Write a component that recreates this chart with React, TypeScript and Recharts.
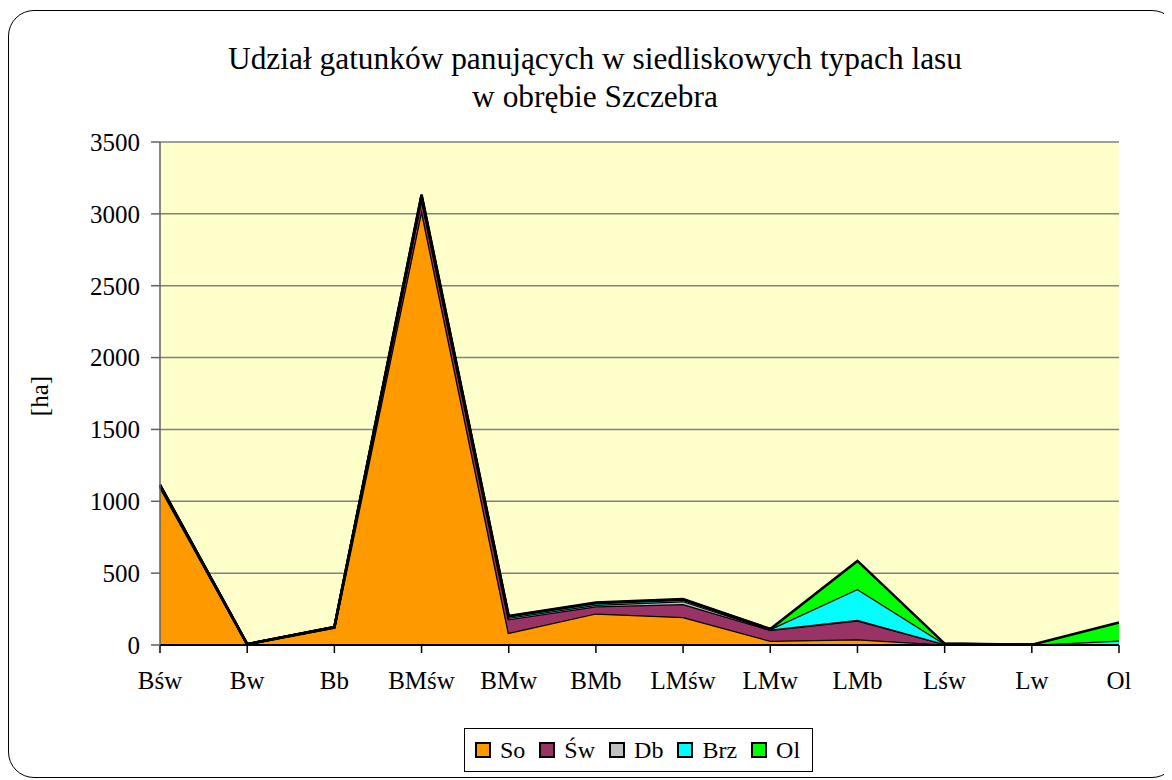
import React from "react";
import { AreaChart, Area, XAxis, YAxis, CartesianGrid } from "recharts";

const categories = ["Bśw", "Bw", "Bb", "BMśw", "BMw", "BMb", "LMśw", "LMw", "LMb", "Lśw", "Lw", "Ol"];
const so = [1100, 5, 120, 3030, 85, 220, 195, 30, 40, 3, 1, 2];
const sw = [10, 1, 3, 80, 95, 50, 90, 75, 130, 4, 0, 5];
const db = [2, 0, 1, 10, 10, 10, 20, 3, 5, 0, 0, 0];
const brz = [3, 0, 1, 10, 10, 10, 10, 3, 215, 2, 0, 25];
const ol = [0, 0, 0, 5, 2, 5, 5, 0, 195, 1, 1, 125];
const yTicks = [0, 500, 1000, 1500, 2000, 2500, 3000, 3500];

const series = [
  { key: "So", values: so, color: "#FF9900" },
  { key: "Św", values: sw, color: "#993366" },
  { key: "Db", values: db, color: "#C0C0C0" },
  { key: "Brz", values: brz, color: "#00FFFF" },
  { key: "Ol", values: ol, color: "#00FF00" },
];

const data = categories.map((c, i) => {
  const row: Record<string, number | string> = { name: c };
  series.forEach((s) => (row[s.key] = s.values[i]));
  return row;
});

const FONT = "'Liberation Serif', 'Times New Roman', serif";

const LegendBox = () => (
  <div
    style={{
      display: "inline-flex",
      alignItems: "center",
      border: "1px solid #000",
      boxSizing: "border-box",
      height: 44,
      width: 349,
      padding: "0 10px",
      fontFamily: FONT,
      fontSize: 24,
      background: "#fff",
    }}
  >
    {series.map((s, i) => (
      <span
        key={s.key}
        style={{ display: "inline-flex", alignItems: "center", marginRight: i < series.length - 1 ? 14 : 0 }}
      >
        <span
          style={{
            display: "inline-block",
            width: 12,
            height: 12,
            background: s.color,
            border: "2px solid #000",
            marginRight: 9,
          }}
        />
        {s.key}
      </span>
    ))}
  </div>
);

export default function App() {
  return (
    <div
      style={{
        position: "relative",
        width: 1170,
        height: 768,
        marginTop: 2,
        border: "1px solid #000",
        borderRadius: 26,
        boxSizing: "border-box",
        background: "#fff",
        fontFamily: FONT,
      }}
    >
      <div
        style={{
          position: "absolute",
          left: 0,
          top: 29,
          width: 1172,
          textAlign: "center",
          fontSize: 31.4,
          lineHeight: "38px",
          color: "#000",
        }}
      >
        Udział gatunków panujących w siedliskowych typach lasu
        <br />w obrębie Szczebra
      </div>
      <div
        style={{
          position: "absolute",
          left: 31,
          top: 385,
          transform: "translate(-50%, -50%) rotate(-90deg)",
          fontSize: 25,
        }}
      >
        [ha]
      </div>
      <div style={{ position: "absolute", left: -1, top: -3 }}>
        <AreaChart
          width={1164}
          height={772}
          data={data}
          margin={{ top: 134, right: 53, left: 0, bottom: 95 }}
        >
          <CartesianGrid vertical={false} stroke="#808080" strokeWidth={1.5} fill="#FFFFCC" fillOpacity={1} />
          <XAxis
            dataKey="name"
            height={40}
            tick={{ fill: "#000", fontSize: 25, fontFamily: FONT }}
            tickLine={{ stroke: "#000", strokeWidth: 1.5 }}
            axisLine={{ stroke: "#000", strokeWidth: 2 }}
            tickSize={8}
            tickMargin={18}
            interval={0}
          />
          <YAxis
            width={152}
            domain={[0, 3500]}
            ticks={yTicks}
            tick={{ fill: "#000", fontSize: 25, fontFamily: FONT }}
            tickLine={{ stroke: "#606060", strokeWidth: 1.5 }}
            axisLine={{ stroke: "#606060", strokeWidth: 1.5 }}
            tickSize={9}
            tickMargin={11}
            interval={0}
          />
          <YAxis
            yAxisId="r"
            orientation="right"
            width={0}
            domain={[0, 3500]}
            tick={false}
            tickLine={false}
            axisLine={{ stroke: "#808080", strokeWidth: 2.5 }}
          />
          {series.map((s) => (
            <Area
              key={s.key}
              type="linear"
              dataKey={s.key}
              stackId="1"
              stroke="#000"
              strokeWidth={2.5}
              fill={s.color}
              fillOpacity={1}
              isAnimationActive={false}
              dot={false}
              activeDot={false}
            />
          ))}
        </AreaChart>
      </div>
      <div style={{ position: "absolute", left: 455, top: 717 }}>
        <LegendBox />
      </div>
    </div>
  );
}
